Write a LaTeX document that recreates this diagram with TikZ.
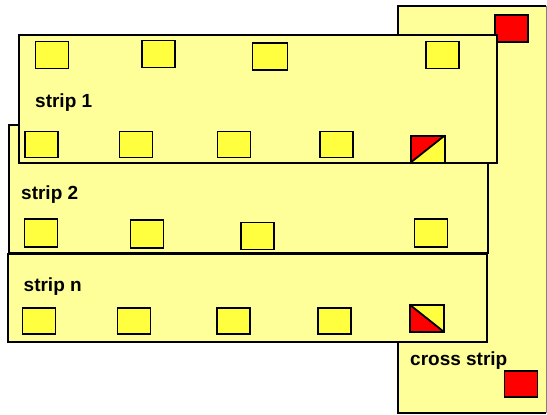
\documentclass[tikz,border=0pt]{standalone}
\usepackage{fontspec}
\setmainfont{Liberation Sans}
\definecolor{stripyellow}{RGB}{255,255,153}
\definecolor{cellyellow}{RGB}{255,255,64}
\tikzset{
  strip/.style={
    draw,
    fill = stripyellow,
    line width = 1.8pt
  },
  cell/.style={
    draw,
    fill = cellyellow,
    line width = 1.4pt,
    inner sep = 0,
    outer sep = 0,
    minimum width = 33pt,
    minimum height = 27pt
  },
  redcell/.style={
    cell,
    fill = red
  },
  splitcell/.style={
    cell,
    line width = 2pt,
    minimum width = 34pt,
    minimum height = 27pt
  },
  label/.style={
    anchor = base west,
    inner sep = 0,
    font = \fontsize{19}{21}\selectfont\bfseries
  }
}

\begin{document}
\begin{tikzpicture}[x=1pt, y=-1pt]
        \useasboundingbox (0,0) rectangle (547,415);
        % cross strip
        \fill[stripyellow] (398,6) rectangle (546,413);
        \draw[line width=1.8pt] (546,6) -- (398,6) -- (398,413) -- (546,413);
        \draw[gray, line width=0.8pt] (546,6) -- (546,413);
        \node[redcell] (crosstop) at (511.5,28.5) {};
        \node[redcell, minimum height=26pt] (crossbot) at (521,384) {};
        \node[label] (crosslabel) at (410,365) {cross strip};
        % strip 2
        \draw[strip] (9,125) rectangle (488,253);
        \node[label] (label2) at (21,199) {strip 2};
        \node[cell, minimum height=28pt] (s2a) at (41,233) {};
        \node[cell, minimum height=28pt] (s2b) at (147,234) {};
        \node[cell, minimum height=27pt] (s2c) at (257.5,236) {};
        \node[cell, minimum height=28pt] (s2d) at (431,233) {};
        % strip n
        \draw[strip] (8,254) rectangle (487,342);
        \node[label] (labeln) at (23.5,291) {strip n};
        \foreach \x [count=\i] in {39,133.7,233.3,334.5}
            \node[cell, minimum height=26pt] (sn\i) at (\x,321) {};
        \node[splitcell] (sn5) at (426.5,318) {};
        \fill[red] (sn5.north west) -- (sn5.south east) -- (sn5.south west) -- cycle;
        \draw[line width=1.8pt] (sn5.north west) -- (sn5.south east);
        \draw[line width=2pt] (sn5.south west) rectangle (sn5.north east);
        % strip 1
        \draw[strip] (19,35) rectangle (497,163);
        \node[label] (label1) at (35,107) {strip 1};
        \node[cell] (s1a) at (52,55) {};
        \node[cell] (s1b) at (158.5,54) {};
        \node[cell, minimum width=35pt] (s1c) at (270,56.5) {};
        \node[cell] (s1d) at (442.5,55) {};
        \foreach \x [count=\i] in {41.5,136,234,336.5}
            \node[cell, minimum height=26pt] (s1\i) at (\x,144.5) {};
        \node[splitcell] (s15) at (427.7,149) {};
        \fill[red] (s15.north west) -- (s15.north east) -- (s15.south west) -- cycle;
        \draw[line width=1.8pt] (s15.south west) -- (s15.north east);
        \draw[line width=2pt] (s15.south west) rectangle (s15.north east);
    \end{tikzpicture}
\end{document}
